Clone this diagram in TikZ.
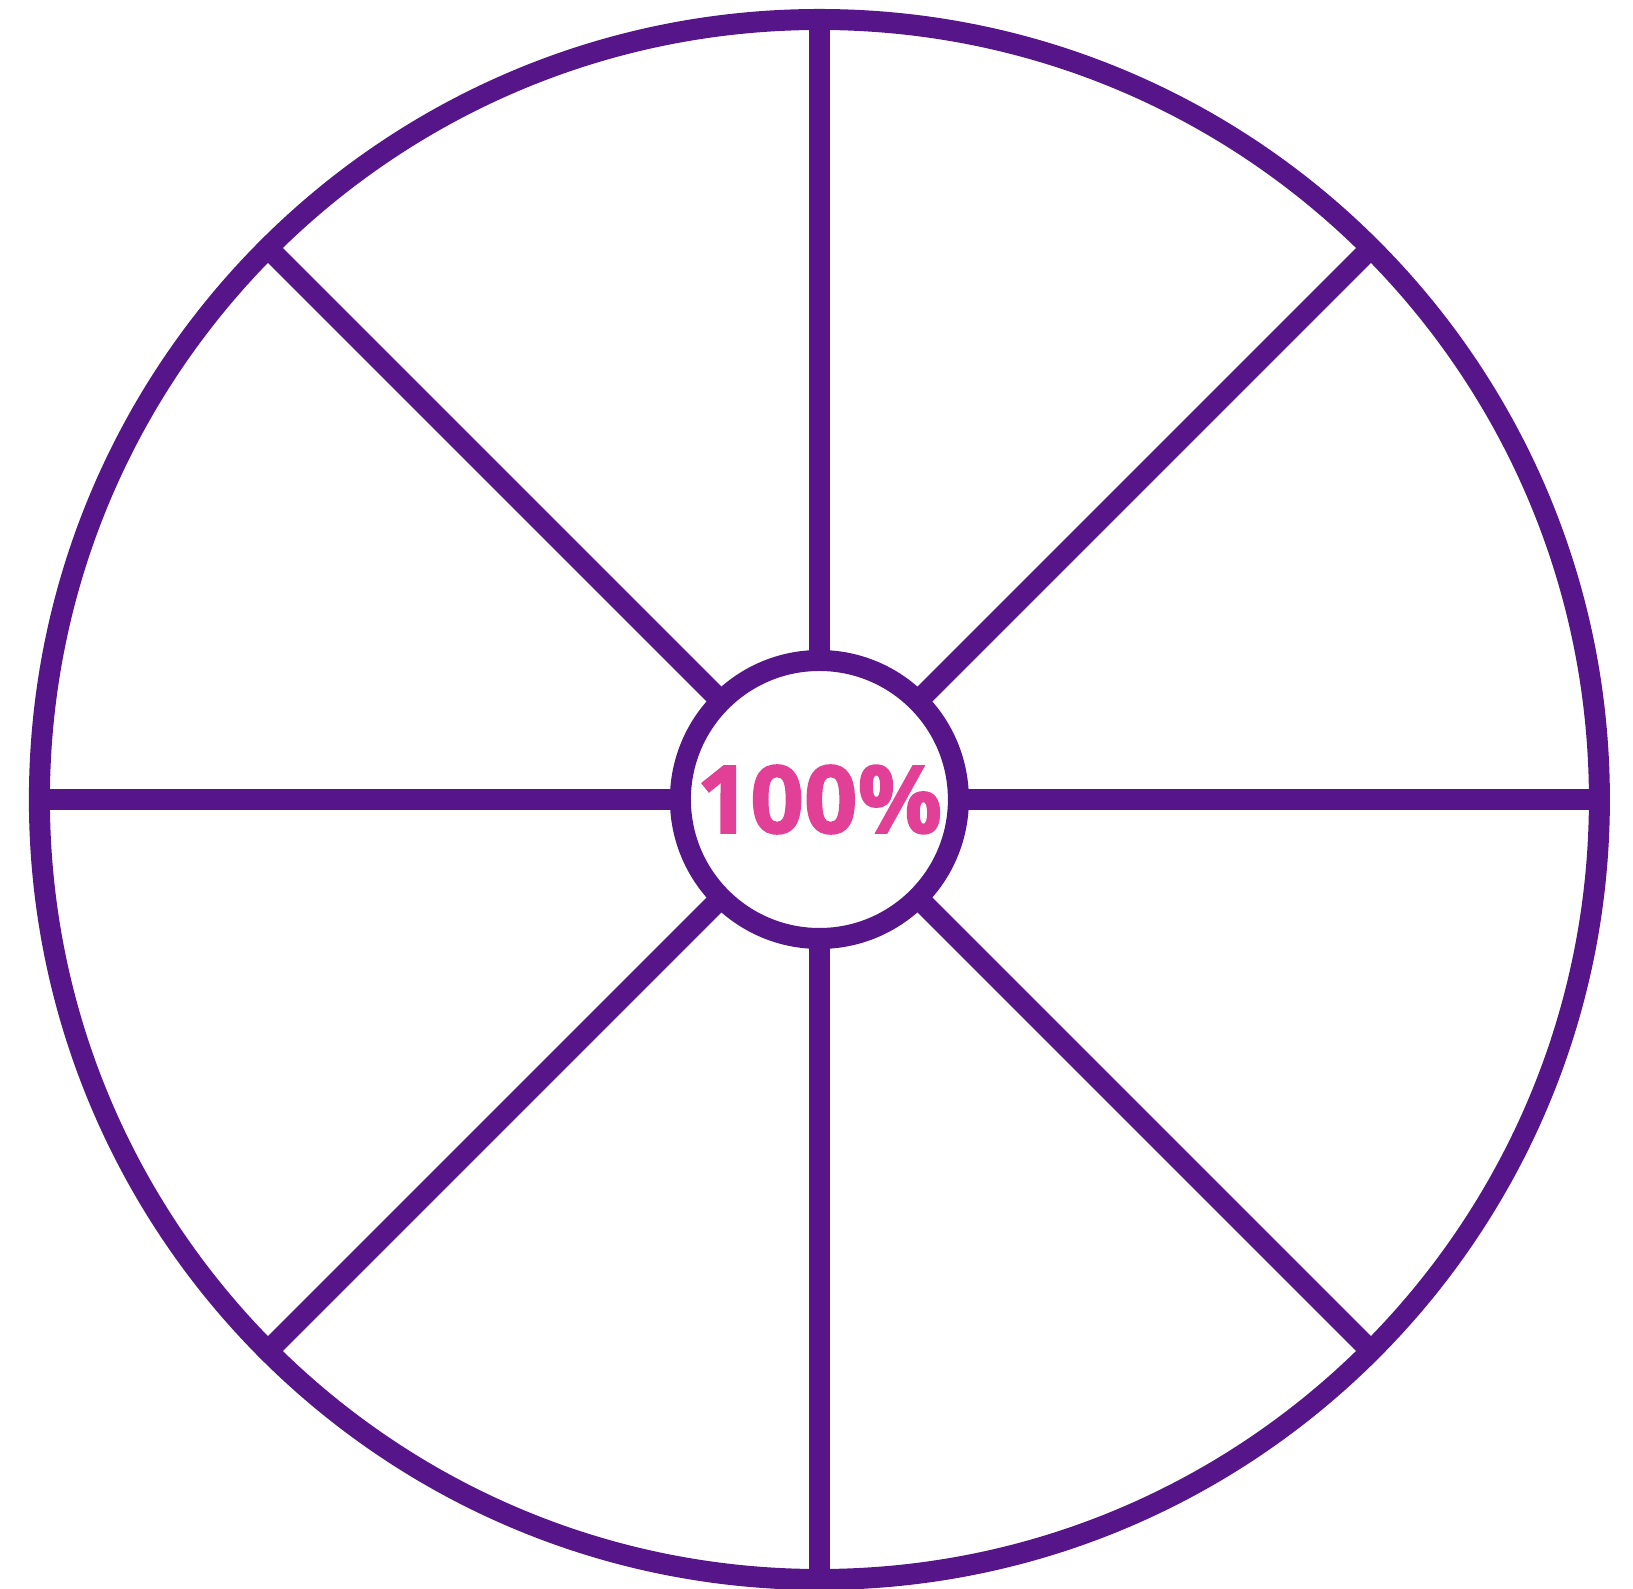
\documentclass[tikz,border=0pt]{standalone}
\usepackage{fontspec}
\newfontfamily\labelfont[BoldFeatures={FakeBold=1.6}]{Open Sans}
\definecolor{wheelpurple}{HTML}{561689}
\definecolor{wheelpink}{HTML}{E24096}
\begin{document}
\begin{tikzpicture}[x=1pt,y=1pt,
  ring/.style={circle, draw=wheelpurple, line width=21pt, inner sep=0pt, outer sep=0pt},
  spoke/.style={draw=wheelpurple, line width=21pt, line cap=butt}]
\useasboundingbox (0,0) rectangle (1633,1588);
\coordinate (c) at (819.4,788.5);
\node[ring, minimum size=1560pt] (outer) at (c) {};
\node[ring, fill=white, minimum size=278pt] (inner) at (c) {};
\foreach \a in {0,45,...,315} {
  \draw[spoke] (inner.\a) -- (outer.\a);
}
\node[font=\labelfont\bfseries\fontsize{94}{94}\selectfont, text=wheelpink, inner sep=0pt] (label) at (c) {100\%};
\end{tikzpicture}
\end{document}
